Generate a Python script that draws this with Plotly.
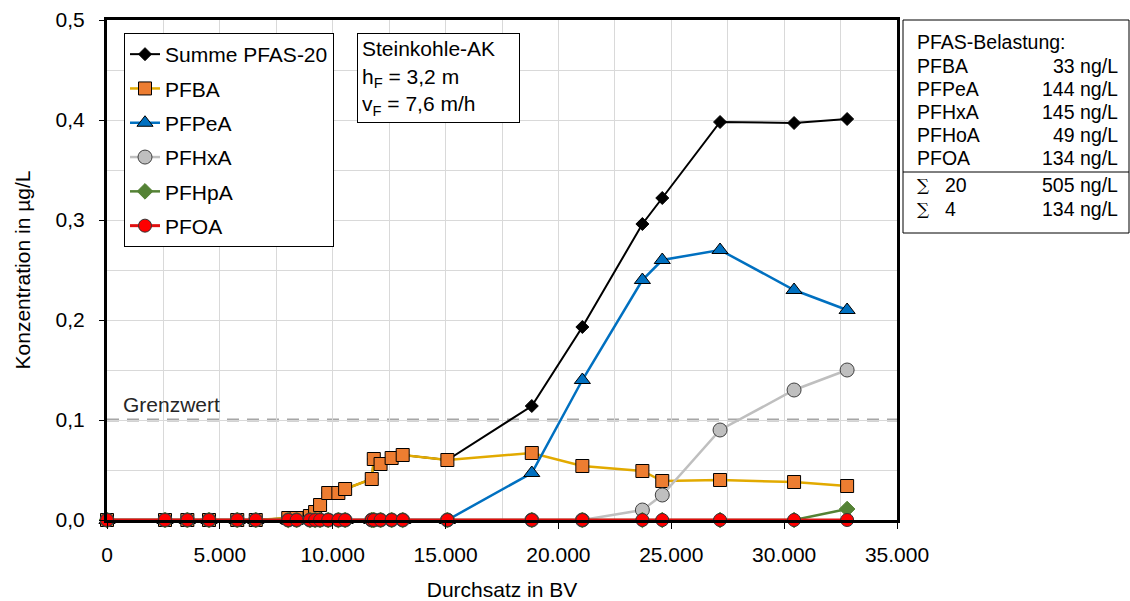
import plotly.graph_objects as go

# ---------------- data ----------------
bv = [0, 2570, 3560, 4520, 5770, 6590, 8030, 8400, 8990, 9220, 9440, 9800, 10250, 10550,
      11730, 11820, 12120, 12610, 13100, 15080, 18820, 21060, 23720, 24600, 27160, 30440, 32790]

summe = [0, 0, 0, 0, 0, 0, 0.002, 0.002, 0.005, 0.010, 0.015, 0.027, 0.027, 0.031,
         0.041, 0.061, 0.056, 0.062, 0.065, 0.060, 0.114, 0.193, 0.296, 0.322, 0.398, 0.397, 0.401]
pfba = [0, 0, 0, 0, 0, 0, 0.002, 0.002, 0.004, 0.008, 0.015, 0.027, 0.027, 0.031,
        0.041, 0.061, 0.056, 0.062, 0.065, 0.060, 0.067, 0.054, 0.049, 0.039, 0.040, 0.038, 0.034]
pfpea = [0, 0, 0, 0, 0, 0, 0, 0, 0, 0, 0, 0, 0, 0,
         0, 0, 0, 0, 0, 0, 0.047, 0.140, 0.240, 0.260, 0.270, 0.230, 0.210]
pfhxa = [0, 0, 0, 0, 0, 0, 0, 0, 0, 0, 0, 0, 0, 0,
         0, 0, 0, 0, 0, 0, 0, 0, 0.010, 0.025, 0.090, 0.130, 0.150]
pfhpa = [0, 0, 0, 0, 0, 0, 0, 0, 0, 0, 0, 0, 0, 0,
         0, 0, 0, 0, 0, 0, 0, 0, 0, 0, 0, 0, 0.011]
pfoa = [0] * 27

grenzwert = 0.1

table_names = ["PFBA", "PFPeA", "PFHxA", "PFHoA", "PFOA"]
table_values = ["33 ng/L", "144 ng/L", "145 ng/L", "49 ng/L", "134 ng/L"]
sum_names = ["20", "4"]
sum_values = ["505 ng/L", "134 ng/L"]

FONT = "Liberation Sans, Arial, sans-serif"
BIG = 21

fig = go.Figure()

series = [
    ("Summe PFAS-20", summe, dict(symbol="diamond", size=10, color="#000000",
                                  line=dict(color="#000000", width=1)), dict(color="#000000", width=2)),
    ("PFBA", pfba, dict(symbol="square", size=13, color="#ED7D31",
                         line=dict(color="#000000", width=1)), dict(color="#E2AA00", width=2.5)),
    ("PFPeA", pfpea, dict(symbol="triangle-up", size=14, color="#0070C0",
                           line=dict(color="#000000", width=1)), dict(color="#0070C0", width=2.5)),
    ("PFHxA", pfhxa, dict(symbol="circle", size=14, color="#BFBFBF",
                           line=dict(color="#404040", width=1)), dict(color="#BFBFBF", width=2.5)),
    ("PFHpA", pfhpa, dict(symbol="diamond", size=12, color="#548235",
                           line=dict(color="#548235", width=1)), dict(color="#548235", width=2.5)),
    ("PFOA", pfoa, dict(symbol="circle", size=13, color="#FF0000",
                         line=dict(color="#333333", width=1)), dict(color="#E01010", width=3)),
]

for i, (name, vals, mk, ln) in enumerate(series):
    fig.add_trace(go.Scatter(x=bv, y=vals, name=name, mode="lines+markers",
                             marker=mk, line=ln, cliponaxis=False,
                             legendgroup="g%d" % i))

# Grenzwert line
fig.add_shape(type="line", xref="paper", yref="y", x0=0, x1=1, y0=grenzwert, y1=grenzwert,
              line=dict(color="#A6A6A6", width=3, dash="12px,8px"), layer="between")
fig.add_annotation(text="Grenzwert", xref="paper", yref="y", x=0.018, y=grenzwert,
                   xanchor="left", yanchor="bottom", yshift=2, showarrow=False,
                   font=dict(family=FONT, size=BIG, color="#262626"))

PL, PW, PT, PH = 107, 790, 20, 500


def px_x(p):
    return (p - PL) / PW


def px_y(p):
    return (PT + PH - p) / PH


# Info box
fig.add_annotation(text="Steinkohle-AK<br>h<sub>F</sub> = 3,2 m<br>v<sub>F</sub> = 7,6 m/h",
                   xref="paper", yref="paper", x=px_x(357), y=px_y(33), xanchor="left", yanchor="top",
                   align="left", showarrow=False, bordercolor="#000000", borderwidth=1,
                   borderpad=4, bgcolor="#FFFFFF", width=153, height=80,
                   font=dict(family=FONT, size=BIG, color="#000000"))

# Table box (right)
fig.add_shape(type="rect", xref="paper", yref="paper", x0=px_x(903), x1=px_x(1129),
              y0=px_y(233), y1=px_y(20), line=dict(color="#000000", width=1),
              fillcolor="#FFFFFF", layer="above")
fig.add_shape(type="line", xref="paper", yref="paper", x0=px_x(903), x1=px_x(1129),
              y0=px_y(172), y1=px_y(172), line=dict(color="#000000", width=1))

tf = dict(family=FONT, size=19.5, color="#000000")
fig.add_annotation(text="PFAS-Belastung:", xref="paper", yref="paper", x=px_x(915), y=px_y(42),
                   xanchor="left", yanchor="middle", showarrow=False, font=tf)
row_y = [66, 89, 112, 135, 158]
for n, v, yy in zip(table_names, table_values, row_y):
    fig.add_annotation(text=n, xref="paper", yref="paper", x=px_x(915), y=px_y(yy),
                       xanchor="left", yanchor="middle", showarrow=False, font=tf)
    fig.add_annotation(text=v, xref="paper", yref="paper", x=px_x(1120), y=px_y(yy),
                       xanchor="right", yanchor="middle", showarrow=False, font=tf)
sum_y = [185, 209]
for n, v, yy in zip(sum_names, sum_values, sum_y):
    fig.add_annotation(text="∑", xref="paper", yref="paper", x=px_x(915), y=px_y(yy),
                       xanchor="left", yanchor="middle", showarrow=False,
                       font=dict(family="DejaVu Serif, serif", size=17, color="#000000"))
    fig.add_annotation(text=n, xref="paper", yref="paper", x=px_x(943), y=px_y(yy),
                       xanchor="left", yanchor="middle", showarrow=False, font=tf)
    fig.add_annotation(text=v, xref="paper", yref="paper", x=px_x(1120), y=px_y(yy),
                       xanchor="right", yanchor="middle", showarrow=False, font=tf)

axis_font = dict(family=FONT, size=BIG, color="#000000")

fig.update_layout(
    width=1130, height=601,
    margin=dict(l=PL, r=1130 - PL - PW, t=PT, b=601 - PT - PH, autoexpand=False),
    paper_bgcolor="#FFFFFF", plot_bgcolor="#FFFFFF",
    separators=",.",
    font=dict(family=FONT, size=BIG, color="#000000"),
    showlegend=True,
    legend=dict(x=px_x(124), y=px_y(33), xanchor="left", yanchor="top",
                bordercolor="#000000", borderwidth=1, bgcolor="#FFFFFF",
                font=dict(family=FONT, size=BIG, color="#000000"),
                tracegroupgap=4, traceorder="grouped", itemwidth=30),
    xaxis=dict(range=[0, 35000], dtick=5000, tick0=0, tickformat=",d",
               showgrid=True, gridcolor="#D9D9D9", gridwidth=1,
               minor=dict(dtick=2500, showgrid=True, gridcolor="#D9D9D9", gridwidth=1),
               showline=True, linecolor="#000000", linewidth=3, mirror=True,
               ticks="outside", ticklen=6, tickcolor="#000000", tickwidth=1,
               tickfont=axis_font, ticklabelstandoff=8, zeroline=False, automargin=False,
               title=dict(text="Durchsatz in BV", font=axis_font, standoff=20)),
    yaxis=dict(range=[0, 0.5], dtick=0.1, tick0=0, tickformat=".1f",
               showgrid=True, gridcolor="#D9D9D9", gridwidth=1,
               minor=dict(dtick=0.05, showgrid=True, gridcolor="#D9D9D9", gridwidth=1),
               showline=True, linecolor="#000000", linewidth=3, mirror=True,
               ticks="outside", ticklen=5, tickcolor="#000000", tickwidth=1,
               tickfont=axis_font, ticklabelstandoff=10, zeroline=False, automargin=False,
               title=dict(text="Konzentration in µg/L", font=axis_font, standoff=20)),
)

fig.write_html("out.html")
